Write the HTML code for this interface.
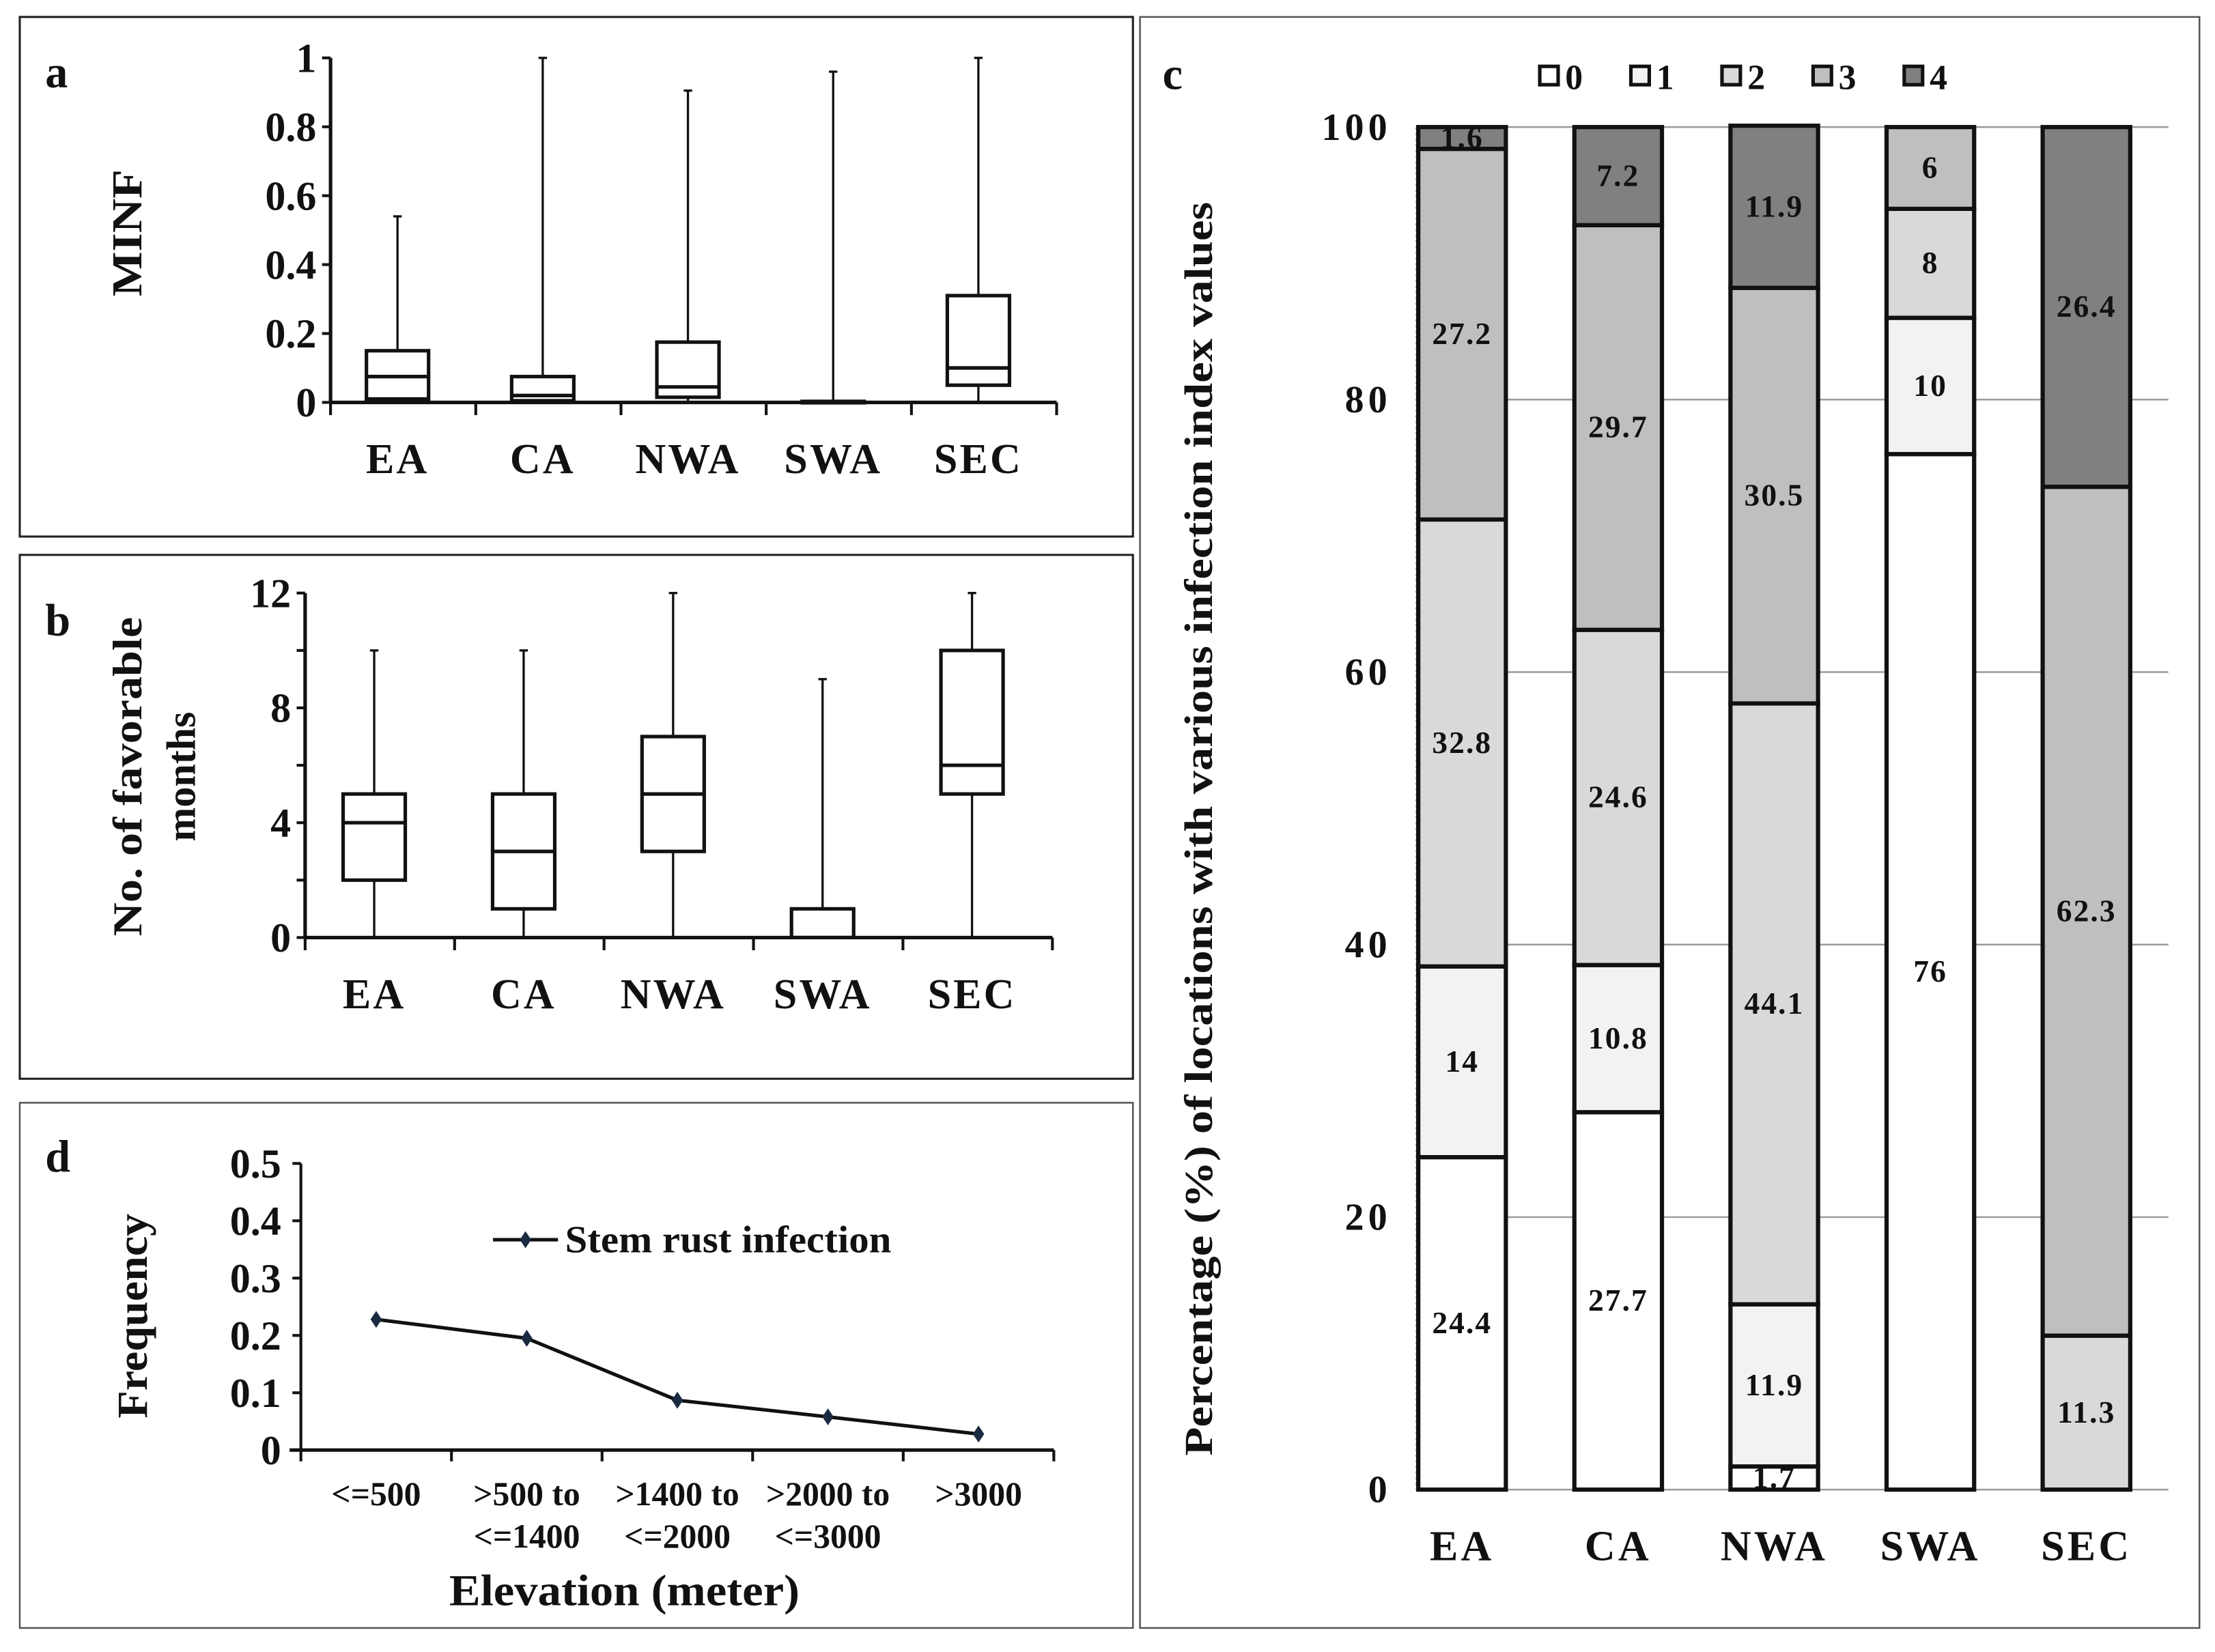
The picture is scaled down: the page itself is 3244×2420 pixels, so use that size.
<!DOCTYPE html>
<html><head><meta charset="utf-8"><style>
html,body{margin:0;padding:0;background:#fff;}
svg{display:block;}
text{font-family:"Liberation Serif",serif;font-weight:bold;fill:#111;}
</style></head><body>
<svg id="fig" width="3244" height="2420" viewBox="0 0 1568 1170" preserveAspectRatio="none" xmlns="http://www.w3.org/2000/svg">
<rect width="1568" height="1170" fill="#fff"/>
<rect x="14" y="12" width="788" height="368" fill="none" stroke="#222" stroke-width="1.5"/>
<rect x="14" y="393" width="788" height="371" fill="none" stroke="#222" stroke-width="1.5"/>
<rect x="14" y="781" width="788" height="372" fill="none" stroke="#555" stroke-width="1.2"/>
<rect x="807" y="12" width="750" height="1141" fill="none" stroke="#555" stroke-width="1.2"/>
<g id="ga"></g>
<g id="gb"></g>
<g id="gc"></g>
<g id="gd"></g>
</svg>
<script>
const regions = ["EA","CA","NWA","SWA","SEC"];
// panel a (MINF)
const aMin = [0,0,0,0,0];
const aQ1 = [0.01,0.005,0.015,0,0.05];
const aMed = [0.075,0.02,0.045,0,0.1];
const aQ3 = [0.15,0.075,0.175,0.003,0.31];
const aMax = [0.54,1,0.905,0.96,1];
const aTicks = [0,0.2,0.4,0.6,0.8,1];
// panel b (months)
const bMin = [0,0,0,0,0];
const bQ1 = [2,1,3,0,5];
const bMed = [4,3,5,0,6];
const bQ3 = [5,5,7,1,10];
const bMax = [10,10,12,9,12];
const bTicks = [0,4,8,12];
// panel c (stacked %)
const cClasses = ["0","1","2","3","4"];
const c0 = [24.4,27.7,1.7,76,0];
const c1 = [14,10.8,11.9,10,0];
const c2 = [32.8,24.6,44.1,8,11.3];
const c3 = [27.2,29.7,30.5,6,62.3];
const c4 = [1.6,7.2,11.9,0,26.4];
const cTicks = [0,20,40,60,80,100];
// panel d
const dCats = [["<=500"],[">500 to","<=1400"],[">1400 to","<=2000"],[">2000 to","<=3000"],[">3000"]];
const dVals = [0.228,0.195,0.087,0.058,0.028];
const dTicks = [0,0.1,0.2,0.3,0.4,0.5];

const NS="http://www.w3.org/2000/svg";
function mk(parent,tag,attrs,txt){const e=document.createElementNS(NS,tag);for(const k in attrs)e.setAttribute(k,attrs[k]);if(txt!==undefined)e.textContent=txt;parent.appendChild(e);return e;}

function boxPanel(g,o){
  const y=v=>o.y0-(v-o.vmin)/(o.vmax-o.vmin)*(o.y0-o.y1);
  const step=(o.xEnd-o.xAxis)/5;
  const x=i=>o.xAxis+step*(i+0.5);
  let e=mk(g,"line",{x1:o.xAxis,y1:o.y1,x2:o.xAxis,y2:o.y0,stroke:"#111","stroke-width":2.5});
  
  
  e=mk(g,"line",{x1:o.xAxis,y1:o.y0,x2:o.xEnd,y2:o.y0,stroke:"#111","stroke-width":2.5});
  
  
  for(let i=0;i<=5;i++){mk(g,"line",{x1:o.xAxis+step*i,y1:o.y0,x2:o.xAxis+step*i,y2:o.y0+9,stroke:"#111","stroke-width":2});}
  o.ticks.forEach(t=>{
    mk(g,"line",{x1:o.xAxis-6,y1:y(t),x2:o.xAxis,y2:y(t),stroke:"#111","stroke-width":2});
    e=mk(g,"text",{x:o.xAxis-10,y:y(t)+10,"text-anchor":"end","font-size":29},String(t));
    
    
  });
  (o.minor||[]).forEach(t=>mk(g,"line",{x1:o.xAxis-6,y1:y(t),x2:o.xAxis,y2:y(t),stroke:"#111","stroke-width":2}));
  regions.forEach((r,i)=>{
    const cx=x(i)-4, w=44;
    e=mk(g,"line",{x1:cx,y1:y(o.mx[i]),x2:cx,y2:y(o.mn[i]),stroke:"#111","stroke-width":1.6});
    
    
    mk(g,"line",{x1:cx-3,y1:y(o.mx[i]),x2:cx+3,y2:y(o.mx[i]),stroke:"#111","stroke-width":1.6});
    e=mk(g,"rect",{x:cx-w/2,y:y(o.q3[i]),width:w,height:Math.max(1,y(o.q1[i])-y(o.q3[i])),fill:"#fff",stroke:"#111","stroke-width":2.5});
    
    
    mk(g,"line",{x1:cx-w/2,y1:y(o.md[i]),x2:cx+w/2,y2:y(o.md[i]),stroke:"#111","stroke-width":2.5});
    e=mk(g,"text",{x:cx,y:o.y0+50,"text-anchor":"middle","font-size":30,"letter-spacing":1.5},r);
    
    
  });
}
const ga=document.getElementById('ga');
boxPanel(ga,{xAxis:234,xEnd:748,y0:285,y1:41,vmin:0,vmax:1,ticks:aTicks,mn:aMin,q1:aQ1,md:aMed,q3:aQ3,mx:aMax});
let t=mk(ga,"text",{x:32,y:62,"font-size":32},"a");

t=mk(ga,"text",{x:0,y:0,"font-size":30,"text-anchor":"middle",textLength:90,lengthAdjust:"spacingAndGlyphs",transform:"translate(100,165) rotate(-90)"},"MINF");


const gb=document.getElementById('gb');
boxPanel(gb,{xAxis:216,xEnd:745,y0:664,y1:420,vmin:0,vmax:12,ticks:bTicks,minor:[2,6,10],mn:bMin,q1:bQ1,md:bMed,q3:bQ3,mx:bMax});
t=mk(gb,"text",{x:32,y:450,"font-size":32},"b");

t=mk(gb,"text",{x:0,y:0,"font-size":29,"text-anchor":"middle",textLength:226,lengthAdjust:"spacingAndGlyphs",transform:"translate(100,550) rotate(-90)"},"No. of favorable");

t=mk(gb,"text",{x:0,y:0,"font-size":29,"text-anchor":"middle",transform:"translate(138,550) rotate(-90)"},"months");


// panel c
const gc=document.getElementById('gc');
const cy=v=>1055-v/100*965;
const cx=i=>1035+i*110.5;
const fills=["#ffffff","#f2f2f2","#d9d9d9","#bfbfbf","#808080"];
t=mk(gc,"line",{x1:1003,y1:90,x2:1003,y2:1055,stroke:"#555","stroke-width":1.5,"stroke-dasharray":"2,2"});

cTicks.forEach(v=>{
  const g=mk(gc,"line",{x1:1003,y1:cy(v),x2:1535,y2:cy(v),stroke:"#9a9a9a","stroke-width":1.2});
  
  const l=mk(gc,"text",{x:985,y:cy(v)+9,"text-anchor":"end","font-size":27,"letter-spacing":3},String(v));
  
});
const series=[c0,c1,c2,c3,c4];
regions.forEach((r,i)=>{
  let base=0;
  series.forEach((s,k)=>{
    const v=s[i]; if(!v) return;
    const top=base+v;
    const rc=mk(gc,"rect",{x:cx(i)-31,y:cy(top),width:62,height:cy(base)-cy(top),fill:fills[k],stroke:"#111","stroke-width":3});
    
    
    const lb=mk(gc,"text",{x:cx(i),y:(cy(top)+cy(base))/2+7,"text-anchor":"middle","font-size":22,"letter-spacing":1},String(v));
    
    base=top;
  });
  const xl=mk(gc,"text",{x:cx(i),y:1105,"text-anchor":"middle","font-size":30,"letter-spacing":2},r);
  
});
cClasses.forEach((c,k)=>{
  const lx=1090+k*64.5;
  const sq=mk(gc,"rect",{x:lx,y:47,width:13,height:13,fill:fills[k],stroke:"#111","stroke-width":2.5});
  
  const lt=mk(gc,"text",{x:lx+18,y:63,"font-size":25},c);
  
});
t=mk(gc,"text",{x:823,y:63,"font-size":32},"c");

t=mk(gc,"text",{x:0,y:0,"font-size":28,"text-anchor":"middle",textLength:888,lengthAdjust:"spacingAndGlyphs",transform:"translate(858,587) rotate(-90)"},"Percentage (%) of locations with various infection index values");


// panel d
const gd=document.getElementById('gd');
const dy=v=>1027-v/0.5*203;
const dstep=(746-213)/5;
const dx=i=>213+dstep*(i+0.5);
t=mk(gd,"line",{x1:213,y1:824,x2:213,y2:1027,stroke:"#111","stroke-width":2});

t=mk(gd,"line",{x1:205,y1:1027,x2:746,y2:1027,stroke:"#111","stroke-width":2.5});

for(let i=0;i<=5;i++) mk(gd,"line",{x1:213+dstep*i,y1:1027,x2:213+dstep*i,y2:1035,stroke:"#111","stroke-width":2});
dTicks.forEach(v=>{
  mk(gd,"line",{x1:207,y1:dy(v),x2:213,y2:dy(v),stroke:"#111","stroke-width":2});
  const l=mk(gd,"text",{x:199,y:dy(v)+10,"text-anchor":"end","font-size":29},String(v));
  
});
const pts=dVals.map((v,i)=>dx(i)+","+dy(v)).join(" ");
t=mk(gd,"polyline",{points:pts,fill:"none",stroke:"#111","stroke-width":2.5});

dVals.forEach((v,i)=>{
  const p=mk(gd,"polygon",{points:`${dx(i)},${dy(v)-6} ${dx(i)+4},${dy(v)} ${dx(i)},${dy(v)+6} ${dx(i)-4},${dy(v)}`,fill:"#1a2a40"});
  
});
dCats.forEach((lines,i)=>{
  lines.forEach((s,j)=>{
    const l=mk(gd,"text",{x:dx(i),y:1066+j*30,"text-anchor":"middle","font-size":24,"font-weight":"normal"},s);
    
  });
});
t=mk(gd,"line",{x1:349,y1:878,x2:395,y2:878,stroke:"#111","stroke-width":2.5});

mk(gd,"polygon",{points:"372,872 376,878 372,884 368,878",fill:"#1a2a40"});
t=mk(gd,"text",{x:400,y:887,"font-size":27,textLength:231,lengthAdjust:"spacingAndGlyphs"},"Stem rust infection");

t=mk(gd,"text",{x:442,y:1137,"text-anchor":"middle","font-size":31,textLength:248,lengthAdjust:"spacingAndGlyphs"},"Elevation (meter)");

t=mk(gd,"text",{x:0,y:0,"font-size":30,"text-anchor":"middle",textLength:145,lengthAdjust:"spacingAndGlyphs",transform:"translate(104,932) rotate(-90)"},"Frequency");

t=mk(gd,"text",{x:32,y:830,"font-size":32},"d");

</script>
</body></html>
